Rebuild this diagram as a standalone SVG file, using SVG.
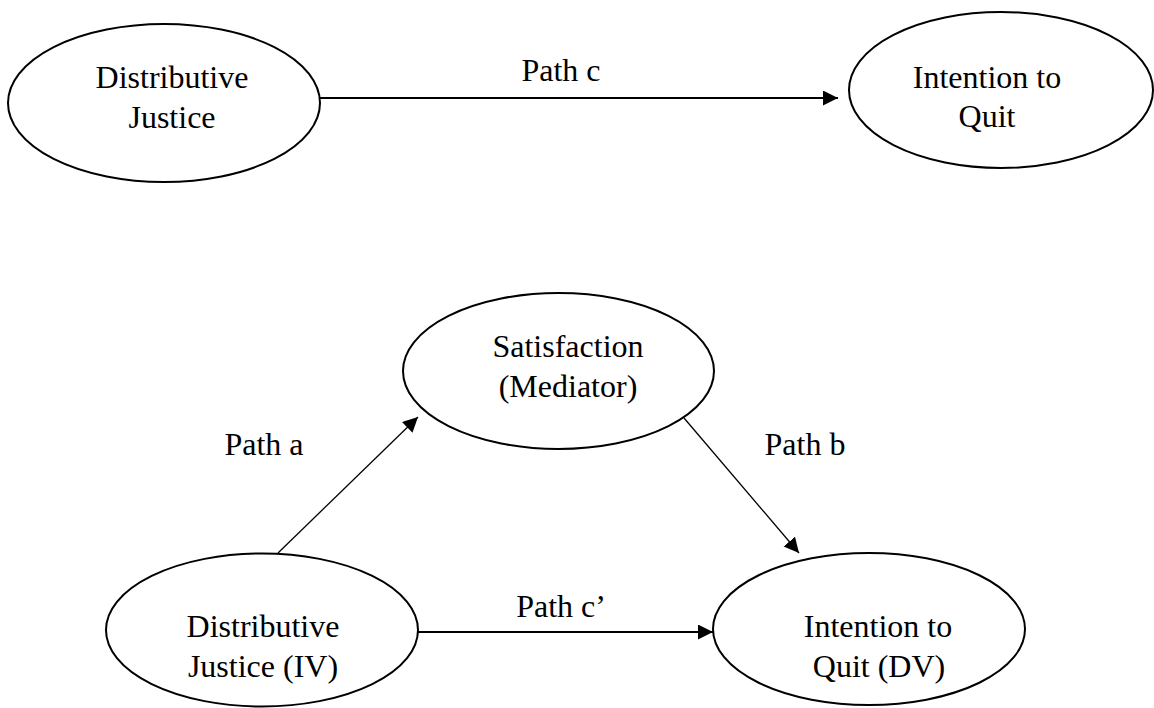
<svg xmlns="http://www.w3.org/2000/svg" width="1154" height="708" viewBox="0 0 1154 708">
  <style>
    .node ellipse { fill: #fff; stroke: #000; stroke-width: 2; }
    .conn line { stroke: #000; }
    .thick { stroke-width: 2; }
    .thin { stroke-width: 1.3; }
  </style>
  <defs>
    <marker id="arr" markerUnits="userSpaceOnUse" markerWidth="16" markerHeight="16" refX="15" refY="7.5" orient="auto">
      <path d="M0,0 L15,7.5 L0,15 z" fill="#000"/>
    </marker>
  </defs>
  <rect width="1154" height="708" fill="#fff"/>

  <g id="connectors" class="conn">
    <line class="thick" x1="320" y1="98" x2="838" y2="98" marker-end="url(#arr)"/>
    <line class="thin" x1="278" y1="553" x2="418" y2="417" marker-end="url(#arr)"/>
    <line class="thin" x1="684" y1="418" x2="799" y2="553" marker-end="url(#arr)"/>
    <line class="thick" x1="418" y1="632" x2="713" y2="632" marker-end="url(#arr)"/>
  </g>

  <g font-family="'Liberation Serif', 'Times New Roman', serif" font-size="32" fill="#000" text-anchor="middle">
    <g id="labels">
      <text x="561" y="81">Path c</text>
      <text x="264" y="455">Path a</text>
      <text x="805" y="455">Path b</text>
      <text x="561" y="617">Path c’</text>
    </g>

    <g id="node-dj-top" class="node">
      <ellipse cx="164" cy="103" rx="156" ry="79"/>
      <text x="172" y="88">Distributive</text>
      <text x="172" y="128">Justice</text>
    </g>

    <g id="node-itq-top" class="node">
      <ellipse cx="1001" cy="90" rx="152" ry="78"/>
      <text x="987" y="88">Intention to</text>
      <text x="987" y="127">Quit</text>
    </g>

    <g id="node-satisfaction" class="node">
      <ellipse cx="558.5" cy="371" rx="155.5" ry="78"/>
      <text x="568" y="357">Satisfaction</text>
      <text x="568" y="397">(Mediator)</text>
    </g>

    <g id="node-dj-iv" class="node">
      <ellipse cx="262" cy="630" rx="156" ry="76.5"/>
      <text x="263" y="637">Distributive</text>
      <text x="263" y="677">Justice (IV)</text>
    </g>

    <g id="node-itq-dv" class="node">
      <ellipse cx="869" cy="629" rx="156" ry="76"/>
      <text x="878" y="637">Intention to</text>
      <text x="879" y="677">Quit (DV)</text>
    </g>
  </g>
</svg>
